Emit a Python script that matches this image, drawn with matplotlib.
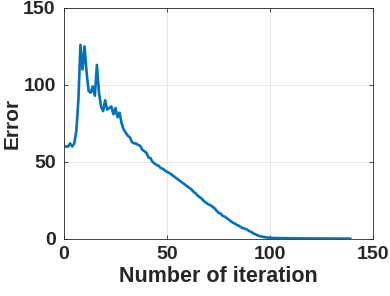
import numpy as np
import matplotlib
matplotlib.use("Agg")
import matplotlib.pyplot as plt

plt.rcParams['font.family'] = ['Liberation Sans', 'DejaVu Sans']
plt.rcParams['font.weight'] = 'bold'

# 每次迭代的误差
err_head = [60, 60, 62, 60, 62, 70, 90, 126, 110, 125,
            108, 96, 95, 99, 93, 113, 95, 86, 83, 90,
            84, 85, 86, 81, 85, 79, 82, 75, 71, 69,
            67, 66, 63, 62, 62, 61, 60.5, 58, 57, 56,
            53, 52.5, 50, 49, 48, 47.5, 46, 45.5, 44.5, 43.5,
            43, 42, 41, 40, 39, 38, 37, 36, 35, 34,
            33, 32, 30.5, 29.5, 28, 27, 26, 24.5, 23.5, 22.5,
            22, 21, 20, 18.5, 17, 16.5, 15, 14.5, 13.5, 12.5,
            11.5, 10.5, 10, 9, 8.5, 7.5, 7, 6.5, 6, 5,
            4.5, 3.5, 3, 2.3, 1.8, 1.5, 1.2, 1.0, 0.8, 0.7]
err_tail = [0.6, 0.6, 0.55, 0.5, 0.5, 0.45, 0.45, 0.4, 0.4, 0.38,
            0.36, 0.35, 0.34, 0.33, 0.32, 0.3, 0.3, 0.29, 0.28, 0.27,
            0.26, 0.25, 0.25, 0.24, 0.23, 0.22, 0.22, 0.21, 0.2, 0.2,
            0.19, 0.18, 0.18, 0.17, 0.17, 0.16, 0.16, 0.15, 0.15]
err = np.array(err_head + err_tail)
iters = np.arange(1, len(err) + 1)

txt = (0.15, 0.15, 0.15)

fig = plt.figure(figsize=(3.9, 2.96), dpi=100)
ax = fig.add_axes([0.164, 0.193, 0.792, 0.78])
ax.plot(iters, err, color=(0, 0.447, 0.741), linewidth=1.9)

ax.set_xlim(0, 150)
ax.set_ylim(0, 150)
ax.set_xticks([0, 50, 100, 150])
ax.set_yticks([0, 50, 100, 150])
ax.grid(True, color=(0.15, 0.15, 0.15), alpha=0.12, linewidth=0.6)
ax.tick_params(direction='in', length=3, width=0.6, colors=txt,
               labelsize=14, top=True, right=True)
ax.tick_params(axis='y', pad=6)
ax.tick_params(axis='x', pad=5)
for s in ax.spines.values():
    s.set_color(txt)
    s.set_linewidth(0.6)

ax.set_xlabel('Number of iteration', fontsize=15.5, fontweight='bold', color=txt, labelpad=2)
ax.set_ylabel('Error', fontsize=15, fontweight='bold', color=txt, labelpad=1)

plt.savefig("out.png", dpi=100)
